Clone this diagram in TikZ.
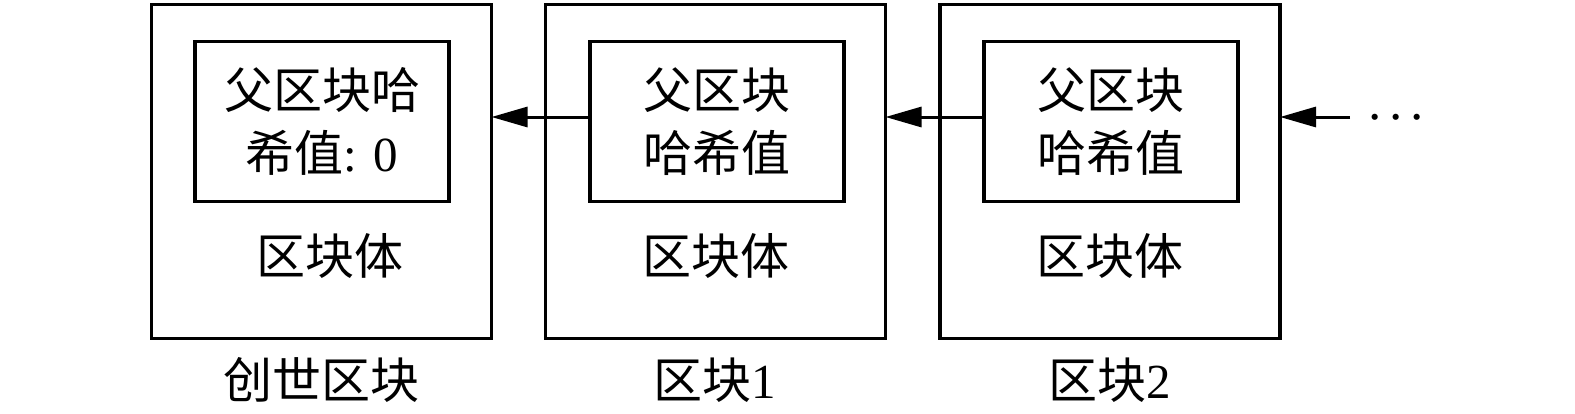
\documentclass[tikz,border=0pt]{standalone}
\usepackage{fontspec}
\setmainfont{Liberation Serif}
\newfontfamily\cjk{Noto Sans CJK SC}
\usetikzlibrary{arrows.meta}
\tikzset{
  outerbox/.style={draw, line width=3.2pt, minimum width=340pt, minimum height=334pt, inner sep=0pt, outer sep=0pt},
  innerbox/.style={draw, line width=3.2pt, minimum width=254pt, minimum height=160pt, inner sep=0pt, outer sep=0pt, align=center, font=\fontsize{49pt}{63.5pt}\selectfont},
  lbl/.style={inner sep=0pt, font=\fontsize{49pt}{60pt}\selectfont},
  arr/.style={line width=3pt, -{Triangle[length=36pt,width=20pt]}},
}
\begin{document}
\begin{tikzpicture}[x=1pt,y=-1pt]
\useasboundingbox (0,0) rectangle (1575,413);
% blocks
\node[outerbox] (out1) at (321.5,171.5) {};
\node[outerbox] (out2) at (715.5,171.5) {};
\node[outerbox] (out3) at (1110,171.5) {};
\node[innerbox] (in1) at (322,121.5) {{\cjk 父区块哈}\\{\cjk 希值}: 0};
\node[innerbox] (in2) at (717,121.5) {{\cjk 父区块}\\{\cjk 哈希值}};
\node[innerbox] (in3) at (1111,121.5) {{\cjk 父区块}\\{\cjk 哈希值}};
\node[lbl] (b1) at (330,256) {\cjk 区块体};
\node[lbl] (b2) at (716,256) {\cjk 区块体};
\node[lbl] (b3) at (1110,256) {\cjk 区块体};
\node[lbl] (l1) at (321.5,380) {\cjk 创世区块};
\node[lbl] (l2) at (715,380) {{\cjk 区块}1};
\node[lbl] (l3) at (1110,380) {{\cjk 区块}2};
\node[lbl, font=\fontsize{52pt}{60pt}\selectfont] (dots) at (1396,124) {·\hspace{4pt}·\hspace{4pt}·};
% connectors
\draw[arr] ([yshift=4.5pt]in2.west) coordinate (s2) -- (out1.east |- s2);
\draw[arr] ([yshift=4.5pt]in3.west) coordinate (s3) -- (out2.east |- s3);
\coordinate (s4) at (1350,117);
\draw[arr] (s4) -- (out3.east |- s4);
\end{tikzpicture}
\end{document}
